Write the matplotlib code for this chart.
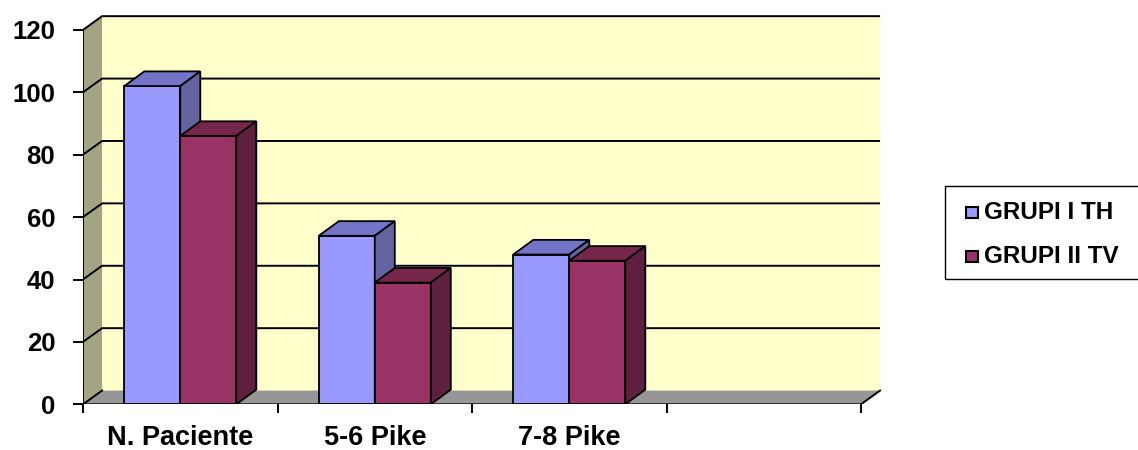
import numpy as np
import matplotlib.pyplot as plt
from matplotlib.patches import Polygon, Rectangle

# chart data
categories = ["N. Paciente", "5-6 Pike", "7-8 Pike"]
grupi_i_th = [102, 54, 48]
grupi_ii_tv = [86, 39, 46]
series_names = ["GRUPI I TH", "GRUPI II TV"]
y_ticks = [0, 20, 40, 60, 80, 100, 120]

plt.rcParams['font.family'] = ['Liberation Sans', 'DejaVu Sans']
plt.rcParams['font.weight'] = 'bold'

# 3d box settings
n_slots = 4          # one empty slot on the right
DX, DY = 0.098, 4.4  # wall depth (x in category units, y in value units)
BDX, BDY = 0.103, 4.7
bar_w = 0.288
ymax = y_ticks[-1]
lw = 1.4

wall_col = '#FFFFCC'
side_wall_col = '#A4A482'
floor_col = '#969696'
# front, top, side shades per series
shades = [('#9999FF', '#7373C8', '#6464A0'),
          ('#993366', '#75264A', '#5F1F3E')]

W, H = 1138, 450
fig = plt.figure(figsize=(W / 100, H / 100), dpi=100)
px_x, px_y = 194.5, 3.12
ax = fig.add_axes([83 / W, 45.7 / H, 4.15 * px_x / W, 125 * px_y / H])
ax.set_xlim(0, 4.15)
ax.set_ylim(0, 125)
for s in ax.spines.values():
    s.set_visible(False)
ax.patch.set_visible(False)

# walls and floor
ax.add_patch(Rectangle((DX, DY), n_slots, ymax, fc=wall_col, ec='none', zorder=0))
ax.add_patch(Polygon([(0, 0), (n_slots, 0), (n_slots + DX, DY), (DX, DY)],
                     fc=floor_col, ec='none', zorder=1))
ax.add_patch(Polygon([(0, 0), (DX, DY), (DX, ymax + DY), (0, ymax)],
                     fc=side_wall_col, ec='none', zorder=1))

# gridlines running across the side wall and back wall
for v in y_ticks[1:]:
    ax.plot([0, DX, n_slots + DX], [v, v + DY, v + DY], color='black', lw=lw,
            zorder=2, solid_capstyle='butt')
ax.plot([0, DX], [0, DY], color='black', lw=lw, zorder=2)

# front edges
ax.plot([0, 0], [0, ymax], color='black', lw=lw, zorder=2)
ax.plot([0, n_slots, n_slots + DX], [0, 0, DY], color='black', lw=lw, zorder=2)


def bar3d(x0, h, cols, z):
    front, top, side = cols
    kw = dict(ec='black', lw=1.3, zorder=z, joinstyle='miter')
    ax.add_patch(Rectangle((x0, 0), bar_w, h, fc=front, **kw))
    ax.add_patch(Polygon([(x0, h), (x0 + bar_w, h), (x0 + bar_w + BDX, h + BDY),
                          (x0 + BDX, h + BDY)], fc=top, **kw))
    ax.add_patch(Polygon([(x0 + bar_w, 0), (x0 + bar_w + BDX, BDY),
                          (x0 + bar_w + BDX, h + BDY), (x0 + bar_w, h)], fc=side, **kw))


centers = np.arange(len(categories)) + 0.5
for i, c in enumerate(centers):
    bar3d(c - bar_w, grupi_i_th[i], shades[0], 3)
    bar3d(c, grupi_ii_tv[i], shades[1], 4)

# ticks
ax.set_yticks(y_ticks)
ax.tick_params(axis='y', length=7, width=lw, pad=13, labelsize=18.5)
ax.set_xticks(range(n_slots + 1))
ax.set_xticklabels([])
ax.tick_params(axis='x', which='major', length=6.5, width=lw)
ax.set_xticks(centers, minor=True)
ax.set_xticklabels(categories, minor=True)
ax.tick_params(axis='x', which='minor', length=0, pad=15, labelsize=19.5)

# legend box
fig.add_artist(Rectangle((945 / W, 1 - 279 / H), 200 / W, 93 / H,
                         transform=fig.transFigure, fc='white', ec='black', lw=1))
for i, name in enumerate(series_names):
    yb = 219 + i * 44
    fig.add_artist(Rectangle((966 / W, 1 - (yb - 1) / H), 12 / W, 11 / H,
                             transform=fig.transFigure, fc=shades[i][0],
                             ec='black', lw=1.5))
    fig.text(984 / W, 1 - yb / H, name, fontsize=17.5, va='baseline')

fig.savefig('out.png', dpi=100)
